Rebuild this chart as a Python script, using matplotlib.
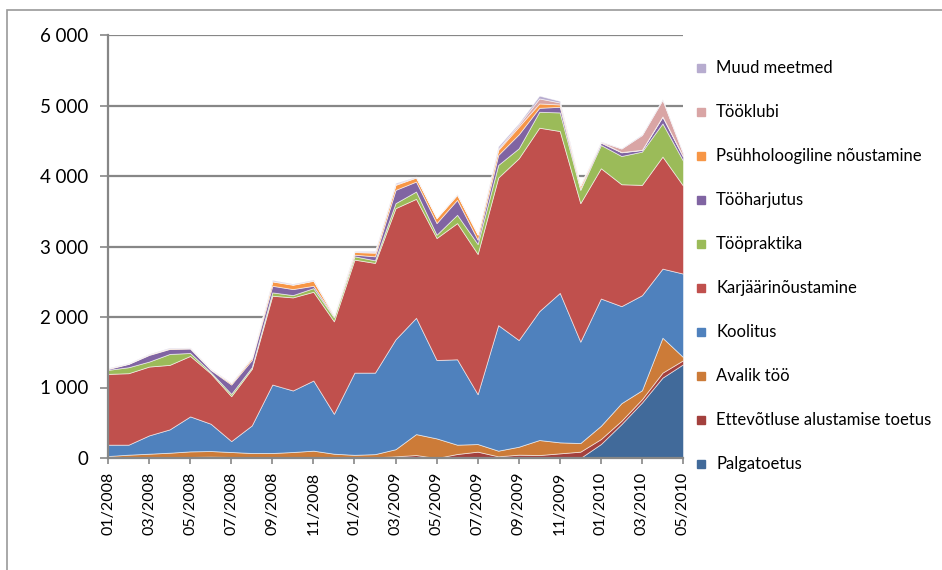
import matplotlib.pyplot as plt
import matplotlib.patches as mpatches
import numpy as np

# months 01/2008 .. 05/2010
months = ['%02d/%d' % (m, y) for y in (2008, 2009, 2010) for m in range(1, 13)][:29]

palgatoetus = [0] * 24 + [198, 481, 787, 1140, 1329]
ettevotlus = [5, 5, 10, 10, 15, 20, 15, 10, 10, 15, 10, 10, 10, 10, 24, 42,
              0, 57, 90, 24, 47, 42, 66, 90, 71, 47, 47, 71, 57]
avalik_too = [23, 42, 51, 65, 79, 79, 70, 61, 61, 70, 94, 51, 35, 45, 101, 297,
              278, 132, 108, 80, 113, 213, 156, 122, 188, 250, 127, 495, 47]
koolitus = [161, 142, 260, 331, 496, 387, 155, 391, 971, 873, 995, 566, 1166, 1156,
            1558, 1650, 1112, 1211, 707, 1781, 1513, 1828, 2120, 1438, 1805, 1376,
            1348, 980, 1183]
karjaar = [1004, 1014, 976, 915, 858, 714, 637, 802, 1260, 1320, 1259, 1312, 1603,
           1556, 1861, 1687, 1730, 1932, 1989, 2093, 2578, 2602, 2296, 1965, 1848,
           1729, 1565, 1589, 1249]
toopraktika = [57, 85, 71, 155, 42, 17, 33, 24, 47, 33, 52, 56, 47, 37, 71, 104, 47,
               118, 141, 179, 142, 226, 264, 188, 330, 401, 472, 471, 353]
tooharjutus = [12, 47, 94, 71, 62, 33, 132, 103, 94, 85, 33, 15, 23, 57, 188, 141,
               165, 212, 61, 141, 198, 56, 80, 17, 33, 52, 23, 94, 57]
psuhholoog = [8, 5, 8, 8, 8, 8, 19, 29, 62, 61, 71, 9, 38, 50, 71, 57, 71, 71, 71,
              71, 108, 62, 33, 40, 7, 4, 3, 5, 5]
tooklubi = [3, 3, 3, 3, 3, 3, 3, 3, 5, 5, 5, 3, 3, 10, 10, 5, 5, 5, 5, 20, 30, 71,
            28, 10, 5, 50, 209, 235, 40]
muud = [5, 5, 5, 8, 5, 5, 5, 5, 15, 10, 10, 5, 10, 15, 16, 7, 2, 7, 3, 31, 21, 40,
        22, 5, 5, 5, 9, 10, 10]

labels = ['Palgatoetus', 'Ettevõtluse alustamise toetus', 'Avalik töö', 'Koolitus',
          'Karjäärinõustamine', 'Tööpraktika', 'Tööharjutus',
          'Psühholoogiline nõustamine', 'Tööklubi', 'Muud meetmed']
colors = ['#416A9A', '#A3403D', '#CC7B38', '#4F81BD', '#C0504D', '#9BBB59',
          '#8064A2', '#F79646', '#D9A5A5', '#B7ACCF']

plt.rcParams['font.family'] = ['Lato', 'DejaVu Sans']

fig = plt.figure(figsize=(9.42, 5.7), dpi=100)
ax = fig.add_axes([108 / 942, 112 / 570, 575 / 942, 423 / 570])

x = np.arange(len(months))
series = [palgatoetus, ettevotlus, avalik_too, koolitus, karjaar, toopraktika,
          tooharjutus, psuhholoog, tooklubi, muud]
polys = ax.stackplot(x, *series, colors=colors, labels=labels)
for p in polys:
    p.set_edgecolor((1, 1, 1, 0.6))
    p.set_linewidth(0.6)

ax.set_xlim(0, len(months) - 1)
ax.set_ylim(0, 6000)
ax.set_yticks(range(0, 6001, 1000))
ax.set_yticklabels(['0' if v == 0 else '%d %03d' % (v // 1000, v % 1000)
                    for v in range(0, 6001, 1000)], fontsize=13.5)
ax.set_xticks(x[::2])
ax.set_xticklabels(months[::2], rotation=90, fontsize=11.5)
ax.grid(axis='y', color='#878787', linewidth=1.6)
ax.set_axisbelow(True)
for s in ['top', 'right']:
    ax.spines[s].set_visible(False)
for s in ['left', 'bottom']:
    ax.spines[s].set_color('#878787')
    ax.spines[s].set_linewidth(1.6)
ax.tick_params(axis='y', color='#878787', width=1.2, length=6, pad=8)
ax.tick_params(axis='x', color='#878787', width=1.2, length=4, pad=6)

# legend, top to bottom in reverse order like the original
for i, (lab, col) in enumerate(zip(labels[::-1], colors[::-1])):
    ycen = 1 - (68 + 44 * i) / 570
    fig.patches.append(mpatches.Rectangle((697 / 942, ycen - 4 / 570), 8 / 942, 8 / 570,
                                          transform=fig.transFigure, color=col))
    fig.text(716 / 942, ycen, lab, fontsize=12, va='center', ha='left')

# chart border
fig.patches.append(mpatches.Rectangle((7 / 942, -0.1), 1.2, 1 - 10 / 570 + 0.1,
                                      transform=fig.transFigure, fill=False,
                                      edgecolor='#9a9a9a', linewidth=1.2))

fig.savefig('out.png', dpi=100)
